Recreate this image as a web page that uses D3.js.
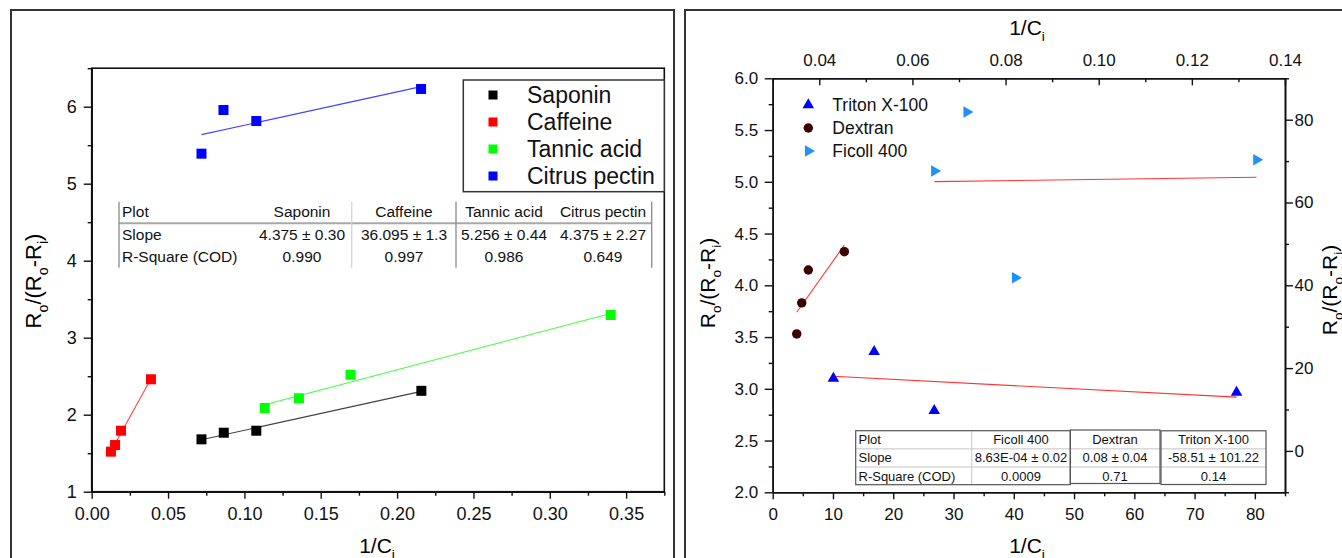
<!DOCTYPE html>
<html>
<head>
<meta charset="utf-8">
<script src="https://cdn.jsdelivr.net/npm/d3@7"></script>
<style>
  body { margin: 0; background: #fff; }
  text { font-family: "Liberation Sans", Arial, Helvetica, sans-serif; }
</style>
</head>
<body>
<svg id="chart" width="1342" height="558"></svg>
<script>
// ---- left panel data ----
const leftNames = ["Saponin", "Caffeine", "Tannic acid", "Citrus pectin"];
const leftColors = ["#000000", "#ff0000", "#00ff00", "#0000ff"];
const saponinX = [0.0719, 0.0865, 0.1078, 0.2159];
const saponinY = [1.68, 1.766, 1.792, 2.31];
const caffeineX = [0.0126, 0.0153, 0.0192, 0.0388];
const caffeineY = [1.52, 1.606, 1.792, 2.46];
const tannicX = [0.1133, 0.1357, 0.1695, 0.3399];
const tannicY = [2.087, 2.213, 2.519, 3.295];
const pectinX = [0.0719, 0.0863, 0.1078, 0.2157];
const pectinY = [5.39, 5.957, 5.814, 6.23];
const leftXTicks = [0, 0.05, 0.10, 0.15, 0.20, 0.25, 0.30, 0.35];
const leftYTicks = [1, 2, 3, 4, 5, 6];
const leftTableHead = ["Plot", "Saponin", "Caffeine", "Tannic acid", "Citrus pectin"];
const leftTableSlope = ["Slope", "4.375 \u00b1 0.30", "36.095 \u00b1 1.3", "5.256 \u00b1 0.44", "4.375 \u00b1 2.27"];
const leftTableR2 = ["R-Square (COD)", "0.990", "0.997", "0.986", "0.649"];

// ---- right panel data ----
const rightNames = ["Triton X-100", "Dextran", "Ficoll 400"];
const rightColors = ["#0000ff", "#3d0000", "#1e90ff"];
const tritonX = [10.07, 16.83, 26.8, 76.96];
const tritonY = [3.101, 3.358, 2.788, 2.964];
const dextranX = [3.99, 4.82, 5.91, 11.89];
const dextranY = [3.53, 3.83, 4.148, 4.325];
const ficollX = [26.84, 32.2, 40.25, 80.28];
const ficollY = [5.104, 5.674, 4.073, 5.213];
const rightXTicks = [0, 10, 20, 30, 40, 50, 60, 70, 80];
const rightYTicks = [2.0, 2.5, 3.0, 3.5, 4.0, 4.5, 5.0, 5.5, 6.0];
const topXTicks = [0.04, 0.06, 0.08, 0.10, 0.12, 0.14];
const secondYTicks = [0, 20, 40, 60, 80];
const rightTableCols = ["Ficoll 400", "Dextran", "Triton X-100"];
const rightTableSlope = ["8.63E-04 \u00b1 0.02", "0.08 \u00b1 0.04", "-58.51 \u00b1 101.22"];
const rightTableR2 = ["0.0009", "0.71", "0.14"];

const svg = d3.select("#chart");

// least squares line over the data's x range
function fitLine(xs, ys) {
    const mx = d3.mean(xs), my = d3.mean(ys);
    const b = d3.sum(xs, (x, i) => (x - mx) * (ys[i] - my)) / d3.sum(xs, x => (x - mx) ** 2);
    const a = my - b * mx;
    const [x0, x1] = d3.extent(xs);
    return [[x0, a + b * x0], [x1, a + b * x1]];
}

function subText(sel, parts, size) {
    let shift = 0;
    parts.forEach(([t, sub]) => {
        const target = sub ? size * 0.3 : 0;
        sel.append("tspan")
            .attr("dy", target - shift)
            .attr("font-size", sub ? size * 0.65 : size)
            .text(t);
        shift = target;
    });
    return sel;
}
const yTitle = [["R", false], ["o", true], ["/(R", false], ["o", true], ["-R", false], ["i", true], [")", false]];
const xTitle = [["1/C", false], ["i", true]];

function drawAxis(transform, make, scale, majors, minors, len, minorLen, pad, fmt, size) {
    const g = svg.append("g").attr("transform", transform);
    g.call(make(scale).tickValues(minors).tickSize(minorLen).tickFormat(() => "").tickSizeOuter(0));
    g.append("g").call(make(scale).tickValues(majors).tickSize(len).tickPadding(pad).tickFormat(fmt).tickSizeOuter(0));
    g.selectAll("path.domain").attr("stroke-width", 1.6).attr("stroke", "#111");
    g.selectAll(".tick line").attr("stroke-width", 1.4).attr("stroke", "#111");
    g.selectAll("text").attr("font-size", size).attr("fill", "#111");
    return g;
}

// outer panel frames
svg.append("rect").attr("x", 11).attr("y", 10).attr("width", 663).attr("height", 600)
    .attr("fill", "none").attr("stroke", "#333").attr("stroke-width", 2);
svg.append("rect").attr("x", 685).attr("y", 10).attr("width", 700).attr("height", 600)
    .attr("fill", "none").attr("stroke", "#333").attr("stroke-width", 2);

// ================= LEFT PANEL =================
const xL = d3.scaleLinear().domain([0, 0.375]).range([91.7, 664.3]);
const yL = d3.scaleLinear().domain([1, 6.5]).range([491.7, 68.2]);

svg.append("rect").attr("x", xL(0)).attr("y", yL(6.5))
    .attr("width", xL(0.375) - xL(0)).attr("height", yL(1) - yL(6.5))
    .attr("fill", "none").attr("stroke", "#111").attr("stroke-width", 1.6);

drawAxis(`translate(0,${yL(1)})`, d3.axisBottom, xL, leftXTicks,
    d3.range(0.025, 0.38, 0.05), 7, 4, 9, d3.format(".2f"), 18);
drawAxis(`translate(${xL(0)},0)`, d3.axisLeft, yL, leftYTicks,
    d3.range(1.5, 6.6, 1), 8, 4, 7, d3.format("d"), 18);

svg.append("text").attr("x", 377).attr("y", 553).attr("text-anchor", "middle")
    .call(s => subText(s, xTitle, 21));
svg.append("text").attr("transform", "translate(41,281) rotate(-90)").attr("text-anchor", "middle")
    .call(s => subText(s, yTitle, 22));

const leftData = [[saponinX, saponinY], [caffeineX, caffeineY], [tannicX, tannicY], [pectinX, pectinY]];
const line = (xs, ys) => d3.line().x(d => xs(d[0])).y(d => ys(d[1]));

leftData.forEach(([xs, ys], k) => {
    svg.append("path").datum(fitLine(xs, ys))
        .attr("d", line(xL, yL)).attr("fill", "none")
        .attr("stroke", leftColors[k]).attr("stroke-opacity", 0.75).attr("stroke-width", 1.1);
    svg.append("g").selectAll("rect").data(xs).join("rect")
        .attr("x", (d, i) => xL(d) - 5).attr("y", (d, i) => yL(ys[i]) - 5)
        .attr("width", 10).attr("height", 10).attr("fill", leftColors[k]);
});

// left legend
svg.append("rect").attr("x", 463.3).attr("y", 80).attr("width", 201).attr("height", 111.7)
    .attr("fill", "#fff").attr("stroke", "#333").attr("stroke-width", 1.5);
const legL = svg.append("g").selectAll("g").data(leftNames).join("g")
    .attr("transform", (d, i) => `translate(493,${95 + i * 27})`);
legL.append("rect").attr("x", -4.5).attr("y", -4.5).attr("width", 9).attr("height", 9)
    .attr("fill", (d, i) => leftColors[i]);
legL.append("text").attr("x", 34).attr("dy", "0.35em").attr("font-size", 23).attr("fill", "#111").text(d => d);

// left table
const tL = svg.append("g").attr("font-size", 15.5).attr("fill", "#111");
const colL = [302, 404, 504, 603];
const rowL = [217, 239.5, 261.5];
[leftTableHead, leftTableSlope, leftTableR2].forEach((row, r) => {
    row.forEach((v, c) => {
        tL.append("text")
            .attr("x", c === 0 ? 122 : colL[c - 1])
            .attr("y", rowL[r])
            .attr("text-anchor", c === 0 ? "start" : "middle")
            .text(v);
    });
});
tL.append("line").attr("x1", 119).attr("x2", 651.7).attr("y1", 223.3).attr("y2", 223.3)
    .attr("stroke", "#a8a8a8").attr("stroke-width", 2);
[[119, "#8a8a8a"], [351.7, "#d4d4d4"], [456, "#8a8a8a"], [651.7, "#8a8a8a"]].forEach(([x, c]) => {
    tL.append("line").attr("x1", x).attr("x2", x).attr("y1", 201.7).attr("y2", 267.7)
        .attr("stroke", c).attr("stroke-width", 1.3);
});

// ================= RIGHT PANEL =================
const xR = d3.scaleLinear().domain([0, 85]).range([772.7, 1285]);
const yR = d3.scaleLinear().domain([2, 6]).range([492.3, 78.3]);
const xTop = d3.scaleLinear().domain([0.03, 0.14]).range([772.7, 1285]);
const yRight = d3.scaleLinear().domain([-10, 90]).range([492.3, 78.3]);

drawAxis(`translate(0,${yR(2)})`, d3.axisBottom, xR, rightXTicks,
    d3.range(5, 86, 10), 7, 4, 9, d3.format("d"), 17);
drawAxis(`translate(${xR(0)},0)`, d3.axisLeft, yR, rightYTicks,
    d3.range(2.25, 6, 0.5), 8, 4, 6.5, d3.format(".1f"), 17);
drawAxis(`translate(0,${yR(6)})`, d3.axisTop, xTop, topXTicks,
    d3.range(0.03, 0.135, 0.02), -7, -4, 12, d3.format(".2f"), 17);
drawAxis(`translate(${xR(85)},0)`, d3.axisRight, yRight, secondYTicks,
    [-10, 10, 30, 50, 70, 90], 8, 4, 1.5, d3.format("d"), 17);

svg.append("text").attr("x", 1027).attr("y", 553).attr("text-anchor", "middle")
    .call(s => subText(s, xTitle, 21));
svg.append("text").attr("x", 1027).attr("y", 35).attr("text-anchor", "middle")
    .call(s => subText(s, xTitle, 21));
svg.append("text").attr("transform", "translate(715,283) rotate(-90)").attr("text-anchor", "middle")
    .call(s => subText(s, yTitle, 21));
svg.append("text").attr("transform", "translate(1337,290) rotate(-90)").attr("text-anchor", "middle")
    .call(s => subText(s, yTitle, 21));

const rightData = [[tritonX, tritonY], [dextranX, dextranY], [ficollX, ficollY]];
const shapes = [
    d3.symbol().type(d3.symbolTriangle).size(58),
    d3.symbol().type(d3.symbolCircle).size(70),
    d3.symbol().type(d3.symbolTriangle).size(58)
];
const rot = [0, 0, 90];

rightData.forEach(([xs, ys], k) => {
    svg.append("path").datum(fitLine(xs, ys))
        .attr("d", line(xR, yR)).attr("fill", "none")
        .attr("stroke", "#ff0000").attr("stroke-opacity", 0.8).attr("stroke-width", 1.1);
});
rightData.forEach(([xs, ys], k) => {
    svg.append("g").selectAll("path").data(xs).join("path")
        .attr("transform", (d, i) => `translate(${xR(d)},${yR(ys[i])}) rotate(${rot[k]})`)
        .attr("d", shapes[k]()).attr("fill", rightColors[k]);
});

// right legend
const legR = svg.append("g").selectAll("g").data(rightNames).join("g")
    .attr("transform", (d, i) => `translate(808.3,${105 + i * 23})`);
legR.append("path").attr("d", (d, i) => shapes[i]())
    .attr("transform", (d, i) => `rotate(${rot[i]})`)
    .attr("fill", (d, i) => rightColors[i]);
legR.append("text").attr("x", 24).attr("dy", "0.36em").attr("font-size", 17.5).attr("fill", "#111").text(d => d);

// right table: three bordered blocks
const tR = svg.append("g").attr("font-size", 13).attr("fill", "#111");
const rowR = [444, 462.3, 481];
const blocks = [
    { x0: 855.7, x1: 1070.3, y0: 430.7, y1: 484.7, cx: 1021, split: 971.7 },
    { x0: 1070.3, x1: 1160, y0: 430, y1: 483.5, cx: 1115 },
    { x0: 1161, x1: 1266, y0: 430.8, y1: 484.5, cx: 1213.5 }
];
blocks.forEach((b, i) => {
    [448.7, 467].forEach(y => tR.append("line").attr("x1", b.x0).attr("x2", b.x1).attr("y1", y).attr("y2", y)
        .attr("stroke", "#d8d8d8").attr("stroke-width", 1.5));
    if (b.split) tR.append("line").attr("x1", b.split).attr("x2", b.split).attr("y1", b.y0).attr("y2", b.y1)
        .attr("stroke", "#cfcfcf").attr("stroke-width", 1.2);
    tR.append("rect").attr("x", b.x0).attr("y", b.y0).attr("width", b.x1 - b.x0).attr("height", b.y1 - b.y0)
        .attr("fill", "none").attr("stroke", "#555").attr("stroke-width", 1.2);
    [rightTableCols[i], rightTableSlope[i], rightTableR2[i]].forEach((v, r) => {
        tR.append("text").attr("x", b.cx).attr("y", rowR[r]).attr("text-anchor", "middle").text(v);
    });
});
["Plot", "Slope", "R-Square (COD)"].forEach((v, r) => {
    tR.append("text").attr("x", 858.5).attr("y", rowR[r]).text(v);
});
</script>
</body>
</html>
